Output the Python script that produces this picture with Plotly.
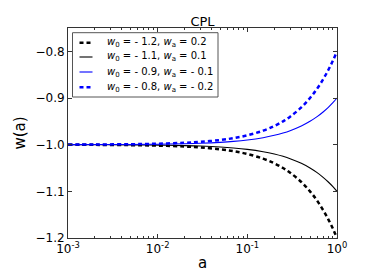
import plotly.graph_objects as go

# Data
a_vals = [0.001, 0.002, 0.005, 0.01, 0.02, 0.03, 0.05, 0.07, 0.1, 0.15, 0.2, 0.25,
          0.3, 0.4, 0.5, 0.6, 0.7, 0.8, 0.9, 1.0]
w_s1 = [-1.0002, -1.0004, -1.001, -1.002, -1.004, -1.006, -1.01, -1.014, -1.02, -1.03,
        -1.04, -1.05, -1.06, -1.08, -1.10, -1.12, -1.14, -1.16, -1.18, -1.20]
w_s2 = [-1.0001, -1.0002, -1.0005, -1.001, -1.002, -1.003, -1.005, -1.007, -1.01, -1.015,
        -1.02, -1.025, -1.03, -1.04, -1.05, -1.06, -1.07, -1.08, -1.09, -1.10]
w_s3 = [-0.9999, -0.9998, -0.9995, -0.999, -0.998, -0.997, -0.995, -0.993, -0.99, -0.985,
        -0.98, -0.975, -0.97, -0.96, -0.95, -0.94, -0.93, -0.92, -0.91, -0.90]
w_s4 = [-0.9998, -0.9996, -0.999, -0.998, -0.996, -0.994, -0.99, -0.986, -0.98, -0.97,
        -0.96, -0.95, -0.94, -0.92, -0.90, -0.88, -0.86, -0.84, -0.82, -0.80]

series_names = [
    "<i>w</i><sub>0</sub> = - 1.2, <i>w</i><sub>a</sub> = 0.2",
    "<i>w</i><sub>0</sub> = - 1.1, <i>w</i><sub>a</sub> = 0.1",
    "<i>w</i><sub>0</sub> = - 0.9, <i>w</i><sub>a</sub> = - 0.1",
    "<i>w</i><sub>0</sub> = - 0.8, <i>w</i><sub>a</sub> = - 0.2",
]

x_tickvals = [0.001, 0.01, 0.1, 1.0]
x_ticktext = ["10<sup>-3</sup>", "10<sup>-2</sup>", "10<sup>-1</sup>", "10<sup>0</sup>"]
x_minor_vals = [m * d for d in (0.001, 0.01, 0.1) for m in range(2, 10)]
y_tickvals = [-1.2, -1.1, -1.0, -0.9, -0.8]
y_ticktext = ["\u22121.2", "\u22121.1", "\u22121.0", "\u22120.9", "\u22120.8"]

styles = [
    dict(color="#000000", width=2.5, dash="4px,3px"),
    dict(color="#000000", width=1.1, dash="solid"),
    dict(color="#0000ff", width=1.1, dash="solid"),
    dict(color="#0000ff", width=2.5, dash="4px,3px"),
]

fig = go.Figure()
for ys, name, st in zip([w_s1, w_s2, w_s3, w_s4], series_names, styles):
    fig.add_trace(go.Scatter(x=a_vals, y=ys, mode="lines", name=name,
                             showlegend=False,
                             line=dict(shape="spline", **st)))

font_family = "DejaVu Sans"
axis_color = "#333333"

# Hand-drawn legend (compact like the reference), in plot-area fractions
plot_w, plot_h = 269.0, 210.0
box = dict(x0=4.5 / plot_w, x1=150 / plot_w, y0=1 - 69 / plot_h, y1=1 - 4.7 / plot_h)
row_px = [14.7, 29.0, 44.0, 59.3]
sample_x0, sample_x1, text_x = 11.5 / plot_w, 24.5 / plot_w, 36.5 / plot_w

shapes = [dict(type="rect", xref="paper", yref="paper", **box,
               line=dict(color="#555555", width=1), fillcolor="white", layer="above")]
annotations = []
for rp, name, st in zip(row_px, series_names, styles):
    yy = 1 - rp / plot_h
    shapes.append(dict(type="line", xref="paper", yref="paper",
                       x0=sample_x0, x1=sample_x1, y0=yy, y1=yy,
                       line=dict(color=st["color"], width=st["width"], dash=st["dash"]),
                       layer="above"))
    annotations.append(dict(text=name, xref="paper", yref="paper", x=text_x, y=yy,
                            xanchor="left", yanchor="middle", showarrow=False,
                            font=dict(size=10, family=font_family, color="black")))

# page body has an 8px margin; figure is sized to fill the remaining window
fig.update_layout(
    width=366, height=272,
    margin=dict(l=60, r=37, t=20, b=42, autoexpand=False),
    paper_bgcolor="white", plot_bgcolor="white",
    font=dict(family=font_family, color="black", size=12),
    title=dict(text="CPL", x=0.5, xref="paper", xanchor="center",
               y=1.0, yref="paper", yanchor="bottom", pad=dict(b=2),
               font=dict(size=13), automargin=False),
    showlegend=False,
    shapes=shapes,
    annotations=annotations,
    xaxis=dict(type="log", range=[-3, 0], tickvals=x_tickvals, ticktext=x_ticktext,
               ticks="inside", ticklen=4, tickcolor=axis_color,
               showline=True, linecolor=axis_color, linewidth=1, mirror="ticks",
               showgrid=False, zeroline=False, automargin=False,
               minor=dict(tickvals=x_minor_vals, ticks="inside", ticklen=2,
                          tickcolor=axis_color, showgrid=False),
               title=dict(text="a", font=dict(size=15), standoff=2),
               tickfont=dict(size=12)),
    yaxis=dict(range=[-1.2, -0.75], tickvals=y_tickvals, ticktext=y_ticktext,
               ticks="inside", ticklen=4, tickcolor=axis_color,
               showline=True, linecolor=axis_color, linewidth=1, mirror="ticks",
               showgrid=False, zeroline=False, automargin=False,
               title=dict(text="w(a)", font=dict(size=15), standoff=6),
               tickfont=dict(size=12)),
)

fig.write_html("out.html", config={"displayModeBar": False})
